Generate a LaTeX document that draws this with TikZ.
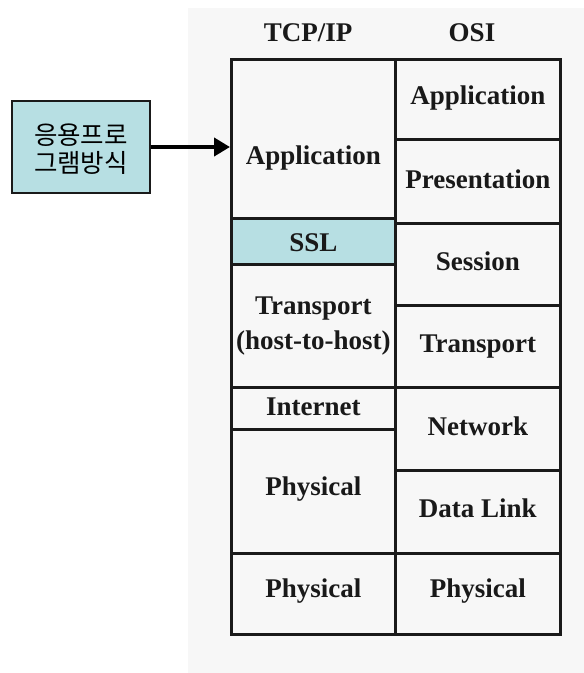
\documentclass[tikz,border=0pt]{standalone}
\usepackage{fontspec}
\setmainfont{Liberation Serif}
\newfontfamily\krfont{Noto Sans CJK KR}
\usetikzlibrary{arrows.meta}
\definecolor{bggray}{HTML}{F7F7F7}
\definecolor{lcyan}{HTML}{B7DFE3}
\definecolor{edge}{HTML}{1A1A1A}
\tikzset{
  cell/.style={draw=edge, line width=2.6pt, minimum width=#1, inner sep=0pt, anchor=north west},
  txt/.style={font=\fontsize{27}{34.5}\selectfont\bfseries, align=center, inner sep=0pt, text=black!90},
  hdr/.style={font=\fontsize{27}{33}\selectfont\bfseries, text=black!90},
  krbox/.style={draw=edge, line width=1.5pt, fill=lcyan, minimum width=138pt, minimum height=92pt,
    inner sep=0pt},
  krtxt/.style={font=\krfont\fontsize{25.5}{27.5}\selectfont, align=center, inner sep=0pt},
  bigarrow/.style={line width=4pt, -{Triangle[length=16pt,width=18pt]}, draw=black}
}
\begin{document}
\begin{tikzpicture}[x=1pt,y=-1pt]
\useasboundingbox (0,0) rectangle (584,673);
\fill[bggray] (188,8) rectangle (584,673);
% headers
\node[hdr] (htcp) at (308,33) {TCP/IP};
\node[hdr] (hosi) at (472,33) {OSI};
% left column (TCP/IP)
\node[cell=164pt, minimum height=159pt] (l1) at (230,58) {};
\node[cell=164pt, minimum height=46pt, fill=lcyan] (l2) at (230,217) {};
\node[cell=164pt, minimum height=123pt] (l3) at (230,263) {};
\node[cell=164pt, minimum height=42pt] (l4) at (230,386) {};
\node[cell=164pt, minimum height=124pt] (l5) at (230,428) {};
\node[cell=164pt, minimum height=81pt] (l6) at (230,552) {};
% right column (OSI)
\node[cell=165pt, minimum height=80pt] (r1) at (394,58) {};
\node[cell=165pt, minimum height=84pt] (r2) at (394,138) {};
\node[cell=165pt, minimum height=82pt] (r3) at (394,222) {};
\node[cell=165pt, minimum height=82pt] (r4) at (394,304) {};
\node[cell=165pt, minimum height=83pt] (r5) at (394,386) {};
\node[cell=165pt, minimum height=83pt] (r6) at (394,469) {};
\node[cell=165pt, minimum height=81pt] (r7) at (394,552) {};
% labels
\node[txt] (t1) at ([yshift=-19pt]l1.center) {Application};
\node[txt] (t2) at ([yshift=-1pt]l2.center) {SSL};
\node[txt] (t3) at ([yshift=0pt]l3.center) {Transport\\(host-to-host)};
\node[txt] (t4) at ([yshift=2pt]l4.center) {Internet};
\node[txt] (t5) at ([yshift=2pt]l5.center) {Physical};
\node[txt] (t6) at ([yshift=3pt]l6.center) {Physical};
\node[txt] (u1) at ([yshift=1pt]r1.center) {Application};
\node[txt] (u2) at ([yshift=2pt]r2.center) {Presentation};
\node[txt] (u3) at ([yshift=3pt]r3.center) {Session};
\node[txt] (u4) at ([yshift=0pt]r4.center) {Transport};
\node[txt] (u5) at ([yshift=3pt]r5.center) {Network};
\node[txt] (u6) at ([yshift=4pt]r6.center) {Data Link};
\node[txt] (u7) at ([yshift=3pt]r7.center) {Physical};
% Korean box and arrow
\node[krbox] (app) at (81,147) {};
\node[krtxt] (apptxt) at ([yshift=-2pt]app.center) {응용프로\\그램방식};
\draw[bigarrow] (app.east) -- (app.east -| l1.west);
\end{tikzpicture}
\end{document}
